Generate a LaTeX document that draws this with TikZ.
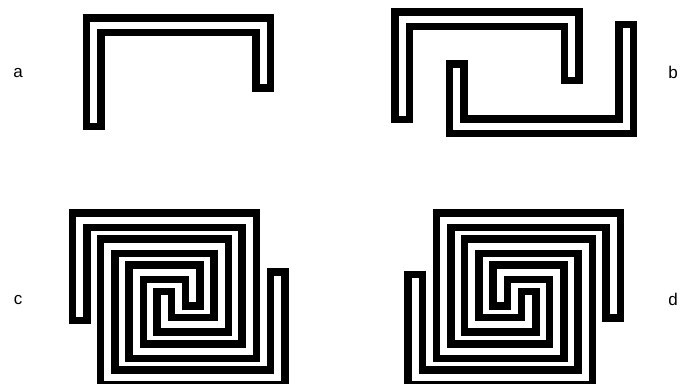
\documentclass[tikz,border=0pt]{standalone}
\usepackage{fontspec}
\setmainfont{Liberation Sans}
\begin{document}
\begin{tikzpicture}[x=1pt,y=-1pt,
  outerstrip/.style={line width=22pt,line cap=butt,line join=miter,black},
  innerstrip/.style={line width=7pt,line cap=butt,line join=miter,white,shorten <=7.5pt,shorten >=7.5pt},
  lbl/.style={font=\fontsize{17}{17}\selectfont,inner sep=0pt}]
\useasboundingbox (0,0) rectangle (690,383);
\def\strip#1{\draw[outerstrip] #1; \draw[innerstrip] #1;}
% a
\strip{(93.5,130) -- (93.5,25) -- (263,25) -- (263,91.7)}
% b
\strip{(402,123.3) -- (402,19) -- (571.5,19) -- (571.5,84.3)}
\strip{(456.5,60) -- (456.5,126) -- (626,126) -- (626,20.7)}
% c
\strip{(79.5,324.3) -- (79.5,220) -- (249.2,220) -- (249.2,351) -- (136.1,351) -- (136.1,272.4) -- (192.7,272.4) -- (192.7,309.6)}
\strip{(277.5,268.3) -- (277.5,377.2) -- (107.8,377.2) -- (107.8,246.2) -- (221,246.2) -- (221,324.8) -- (164.4,324.8) -- (164.4,287.6)}
% d
\strip{(613.4,321.7) -- (613.4,220) -- (443.7,220) -- (443.7,351) -- (556.8,351) -- (556.8,272.4) -- (500.2,272.4) -- (500.2,309.6)}
\strip{(415.4,270.7) -- (415.4,377.2) -- (585.1,377.2) -- (585.1,246.2) -- (471.9,246.2) -- (471.9,324.8) -- (528.5,324.8) -- (528.5,287.6)}
% labels
\node[lbl] (la) at (18,73) {a};
\node[lbl] (lb) at (673,72) {b};
\node[lbl] (lc) at (18,300) {c};
\node[lbl] (ld) at (673,299) {d};
\end{tikzpicture}
\end{document}
